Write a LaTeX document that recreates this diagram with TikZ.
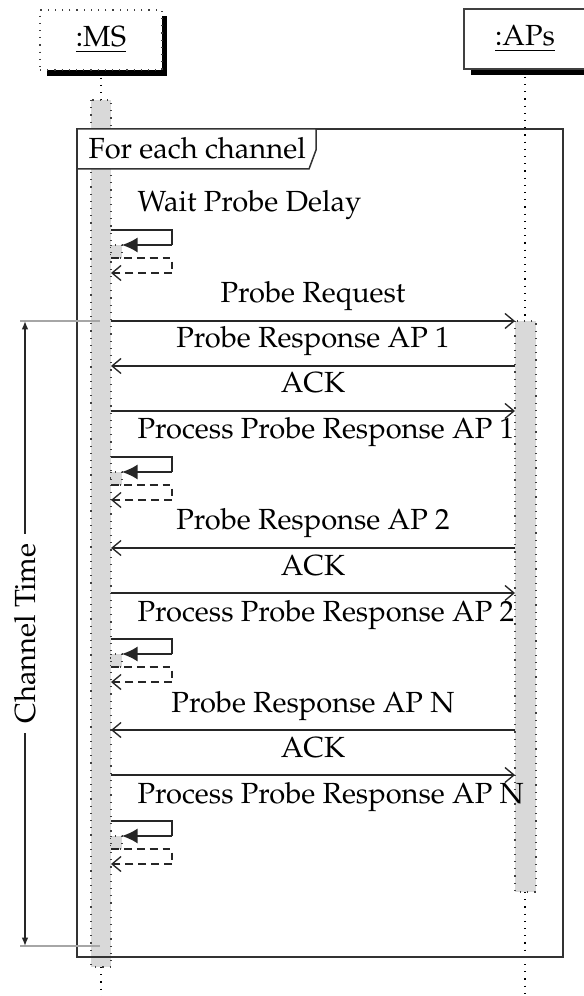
\documentclass[tikz,border=0pt]{standalone}
\usepackage[T1]{fontenc}
\usepackage{mathpazo}
\usetikzlibrary{arrows.meta}

\tikzset{
  every node/.style={font=\fontsize{9.7}{12}\selectfont, inner sep=0pt},
  msgline/.style={draw=black!85, line width=0.45pt, -{Straight Barb[length=3pt,width=5pt]}},
  callline/.style={draw=black!85, line width=0.45pt, -{Latex[length=5.2pt,width=5pt]}},
  retline/.style={draw=black!85, line width=0.45pt, dash pattern=on 2.6pt off 1.7pt, -{Straight Barb[length=3pt,width=5pt]}},
  retpath/.style={draw=black!85, line width=0.45pt, dash pattern=on 2.6pt off 1.7pt},
  callpath/.style={draw=black!85, line width=0.45pt},
  actbar/.style={fill=black!15, draw=black!75, dotted, line width=0.4pt},
  lifeline/.style={draw=black, dotted, line width=0.4pt},
  msglabel/.style={anchor=base, yshift=6pt},
  objhead/.style={fill=white, minimum width=122*0.3333pt, minimum height=60*0.3333pt},
  framebox/.style={draw=black!80, line width=0.5pt},
  measure/.style={draw=black!85, line width=0.45pt, {Latex[length=2.8pt,width=2.2pt]}-{Latex[length=2.8pt,width=2.2pt]}},
  guide/.style={draw=black!35, line width=0.6pt},
}

% internal processing step of the MS: self call with nested activation and dashed return
\newcommand\procstep[3]{%
  \coordinate (#3s) at (111,#1);
  \coordinate (#3r) at (172,#1);
  \coordinate (#3c) at (172,#1+15);
  \coordinate (#3e) at (122,#1+15);
  \filldraw[actbar] (111,#1+15) rectangle (122,#1+28);
  \draw[callpath] (#3s) -- (#3r) -- (#3c);
  \draw[callline] (#3c) -- (#3e);
  \coordinate (#3ds) at (111,#1+28);
  \coordinate (#3dr) at (172,#1+28);
  \coordinate (#3dc) at (172,#1+43);
  \coordinate (#3de) at (111,#1+43);
  \draw[retpath] (#3ds) -- (#3dr) -- (#3dc);
  \draw[retline] (#3dc) -- (#3de);
  \node[anchor=base west] (#3t) at (137,#1-18) {#2};
}

\begin{document}
\begin{tikzpicture}[x=0.3333pt, y=-0.3333pt]
\useasboundingbox (0,0) rectangle (583,996);

% object heads with shadows
\fill[black] (47,16) rectangle (167,76);
\node[objhead, draw=black!75, dotted] (ms) at (101,40) {\underline{:MS}};
\fill[black] (471,15) rectangle (591,75);
\node[objhead, draw=black!75] (aps) at (525,39) {\underline{:APs}};

% lifelines and activations
\coordinate (msTop) at (101,100);
\coordinate (msBot) at (101,967);
\coordinate (msEnd) at (101,996);
\draw[lifeline] (ms.south) -- (msTop);
\filldraw[actbar] (91,100) rectangle (111,967);
\draw[lifeline] (msBot) -- (msEnd);

\coordinate (apTop) at (525,321);
\coordinate (apBot) at (525,892);
\coordinate (apEnd) at (525,996);
\draw[lifeline] (aps.south) -- (apTop);
\filldraw[actbar] (515,321) rectangle (536,892);
\draw[lifeline] (apBot) -- (apEnd);

% combined fragment
\draw[framebox] (77,129) rectangle (563,957);
\filldraw[framebox, fill=white] (77,129) -- (316,129) -- (316,150) -- (309,169) -- (77,169) -- cycle;
\node[anchor=base west] (loop) at (88,159) {For each channel};

% messages
\coordinate (m1a) at (111,321); \coordinate (m1b) at (515,321);
\draw[msgline] (m1a) -- node[msglabel] (l1) {Probe Request} (m1b);
\coordinate (m2a) at (515,366); \coordinate (m2b) at (111,366);
\draw[msgline] (m2a) -- node[msglabel] (l2) {Probe Response AP 1} (m2b);
\coordinate (m3a) at (111,411); \coordinate (m3b) at (515,411);
\draw[msgline] (m3a) -- node[msglabel] (l3) {ACK} (m3b);

\coordinate (m4a) at (515,548); \coordinate (m4b) at (111,548);
\draw[msgline] (m4a) -- node[msglabel] (l4) {Probe Response AP 2} (m4b);
\coordinate (m5a) at (111,593); \coordinate (m5b) at (515,593);
\draw[msgline] (m5a) -- node[msglabel] (l5) {ACK} (m5b);

\coordinate (m6a) at (515,730); \coordinate (m6b) at (111,730);
\draw[msgline] (m6a) -- node[msglabel] (l6) {Probe Response AP N} (m6b);
\coordinate (m7a) at (111,775); \coordinate (m7b) at (515,775);
\draw[msgline] (m7a) -- node[msglabel] (l7) {ACK} (m7b);

% processing steps
\procstep{230}{Wait Probe Delay}{pa}
\procstep{457}{Process Probe Response AP 1}{pb}
\procstep{639}{Process Probe Response AP 2}{pc}
\procstep{821}{Process Probe Response AP N}{pd}

% channel time measure
\coordinate (ctTop) at (25,321);
\coordinate (ctBot) at (25,946);
\coordinate (ctTopL) at (20,321);
\coordinate (ctTopR) at (100,321);
\coordinate (ctBotL) at (20,946);
\coordinate (ctBotR) at (100,946);
\draw[guide] (ctTopL) -- (ctTopR);
\draw[guide] (ctBotL) -- (ctBotR);
\draw[measure] (ctTop) -- node[fill=white, rotate=90, inner sep=3pt] (ct) {Channel Time} (ctBot);
\end{tikzpicture}
\end{document}
